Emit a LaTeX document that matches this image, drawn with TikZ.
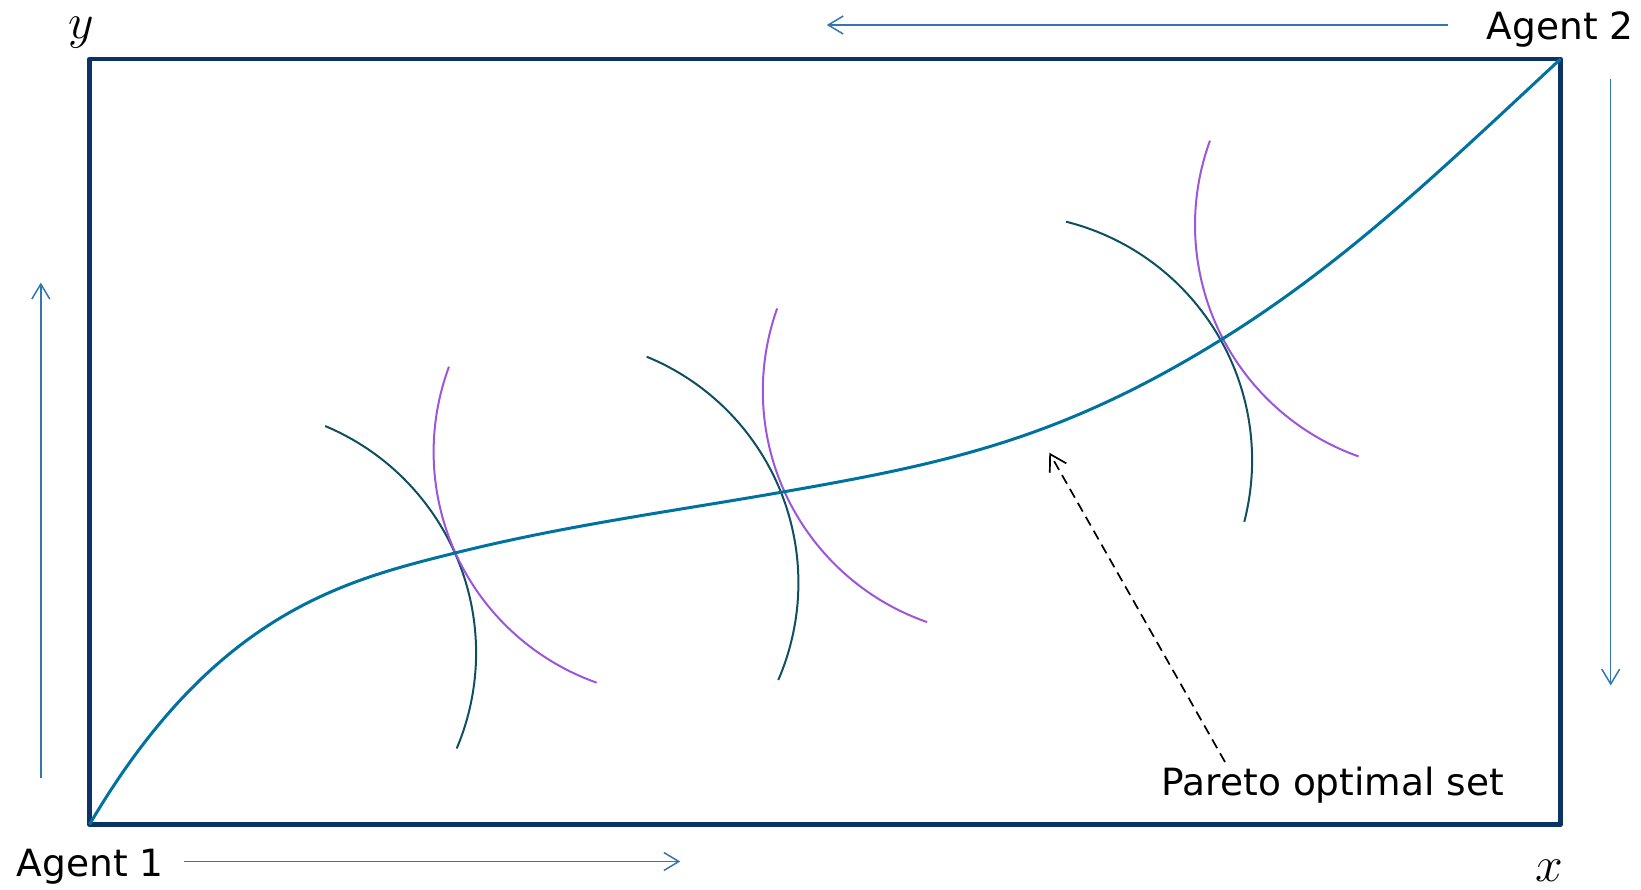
\documentclass[tikz,border=0pt]{standalone}
\usepackage{fontspec}
\setmainfont{DejaVu Sans}
\usetikzlibrary{arrows.meta}
\definecolor{boxnavy}{RGB}{11,52,100}
\definecolor{pareto}{RGB}{0,114,160}
\definecolor{darkarc}{RGB}{14,80,96}
\definecolor{purplearc}{RGB}{155,86,219}
\definecolor{axisblue}{RGB}{52,118,176}
\tikzset{
  frame/.style={draw=boxnavy, line width=2.25pt, line join=round},
  paretocurve/.style={draw=pareto, line width=1.5pt},
  agentone/.style={draw=darkarc, line width=1pt},
  agenttwo/.style={draw=purplearc, line width=1pt},
  dirarrow/.style={draw=axisblue, line width=0.75pt, -{Straight Barb[length=7.5pt,width=9pt]}},
  pointer/.style={draw=black, line width=0.85pt, dash pattern=on 5pt off 3pt, -{Straight Barb[length=8pt,width=9.5pt]}},
  lbl/.style={inner sep=0pt, font=\fontsize{18.75}{22.5}\selectfont},
  mathlbl/.style={inner sep=0pt, font=\Huge}
}
\begin{document}
\begin{tikzpicture}[x=0.5pt, y=0.5pt]
\useasboundingbox (0,0) rectangle (1641,889);
% frame
\coordinate (bl) at (89.5,64.5);
\coordinate (tr) at (1560.5,830);
\draw[frame] (bl) rectangle (tr);
% indifference arcs
\draw[agentone] (230.3,236.2) ++(67.3:245.8) arc[start angle=67.3, end angle=-22.9, radius=245.8];
\draw[agenttwo] (678.3,437) ++(159.6:244.7) arc[start angle=159.6, end angle=250.5, radius=244.7];
\draw[agentone] (553.9,306.1) ++(67.7:244.5) arc[start angle=67.7, end angle=-23.4, radius=244.5];
\draw[agenttwo] (1007.5,498) ++(160.3:244.7) arc[start angle=160.3, end angle=250.8, radius=244.7];
\draw[agentone] (1006.2,428.8) ++(75.9:245.9) arc[start angle=75.9, end angle=-14.5, radius=245.9];
\draw[agenttwo] (1440.5,664) ++(159.9:245.5) arc[start angle=159.9, end angle=250.5, radius=245.5];
% Pareto set curve
\coordinate (p1) at (455,336);
\coordinate (p2) at (781,396.7);
\coordinate (p3) at (1220.7,549);
\draw[paretocurve] (bl)
  .. controls (214.5,277) and (345,308.5) .. (p1)
  .. controls (565,363.5) and (671,377.45) .. (p2)
  .. controls (943,425.05) and (1058.7,448.6) .. (p3)
  .. controls (1343.7,625.3) and (1437.5,715.6) .. (tr);
% direction arrows
\coordinate (la) at (40.8,111.4);
\coordinate (lb) at (40.8,606.4);
\coordinate (ba) at (183.5,27.5);
\coordinate (bb) at (680.3,27.5);
\coordinate (ta) at (1448,864);
\coordinate (tb) at (826.8,864);
\coordinate (ra) at (1610.7,810);
\coordinate (rb) at (1610.7,203.5);
\draw[dirarrow] (la) -- (lb);
\draw[dirarrow] (ba) -- (bb);
\draw[dirarrow] (ta) -- (tb);
\draw[dirarrow] (ra) -- (rb);
% labels
\node[mathlbl, anchor=base] (ylab) at (81.5,850) {$y$};
\node[mathlbl, anchor=base] (xlab) at (1549,8) {$x$};
\node[lbl, anchor=base west] (ag2) at (1486.5,849) {Agent 2};
\node[lbl, anchor=base west] (ag1) at (16.5,12.3) {Agent 1};
\node[lbl, anchor=base west] (pos) at (1161.5,94) {Pareto optimal set};
% pointer
\coordinate (ptail) at (1225,127);
\coordinate (ptip) at (1049.3,436.3);
\draw[pointer] (ptail) -- (ptip);
\end{tikzpicture}
\end{document}
